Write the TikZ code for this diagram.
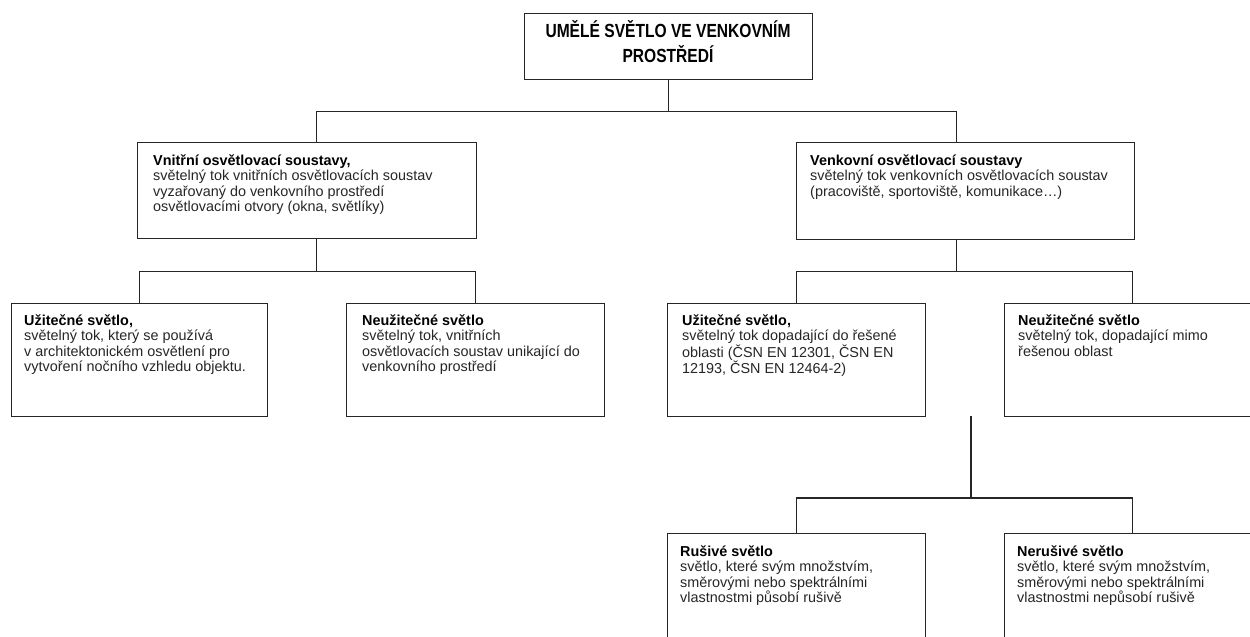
\documentclass[tikz,border=0pt]{standalone}
\usepackage{fontspec}
\setmainfont{Liberation Sans}
\newfontfamily\titlefont[FakeStretch=0.82]{Liberation Sans}
\begin{document}
\begin{tikzpicture}[x=1pt,y=-1pt,
  box/.style={draw=black!85, line width=1.3pt, inner sep=0pt, anchor=north west},
  conn/.style={draw=black!85, line width=1.3pt},
  txt/.style={inner sep=0pt, anchor=base west, text=black!85, font=\fontsize{14.4}{15.5}\selectfont}]
\useasboundingbox (0,0) rectangle (1250,637);
\fill[white] (0,0) rectangle (1250,637);
\clip (0,0) rectangle (1250,637);
% boxes
\node[box, minimum width=288pt, minimum height=66pt] (T) at (524,13) {};
\node[box, minimum width=339pt, minimum height=96pt] (L1) at (137,142) {};
\node[box, minimum width=338pt, minimum height=97pt] (R1) at (796,142) {};
\node[box, minimum width=256pt, minimum height=113pt] (A) at (11,303) {};
\node[box, minimum width=258pt, minimum height=113pt] (B) at (346,303) {};
\node[box, minimum width=258pt, minimum height=113pt] (C) at (667,303) {};
\node[box, minimum width=256pt, minimum height=113pt] (D) at (1004,303) {};
\node[box, minimum width=258pt, minimum height=150pt] (E) at (667,533) {};
\node[box, minimum width=256pt, minimum height=150pt] (F) at (1004,533) {};
% texts
\node[inner sep=0pt, anchor=base, text=black, font=\titlefont\bfseries\fontsize{19}{25}\selectfont] (tT) at (668,37) {\parbox[t]{286pt}{\centering UMĚLÉ SVĚTLO VE VENKOVNÍM\\PROSTŘEDÍ}};
\node[txt] (tL1) at ([shift={(16,23)}]L1.north west) {\parbox[t]{320pt}{\textbf{\color{black}Vnitřní osvětlovací soustavy,}\\světelný tok vnitřních osvětlovacích soustav\\vyzařovaný do venkovního prostředí\\osvětlovacími otvory (okna, světlíky)}};
\node[txt] (tR1) at ([shift={(14,23)}]R1.north west) {\parbox[t]{320pt}{\textbf{\color{black}Venkovní osvětlovací soustavy}\\světelný tok venkovních osvětlovacích soustav\\(pracoviště, sportoviště, komunikace…)}};
\node[txt] (tA) at ([shift={(13,22)}]A.north west) {\parbox[t]{240pt}{\textbf{\color{black}Užitečné světlo,}\\světelný tok, který se používá\\v architektonickém osvětlení pro\\vytvoření nočního vzhledu objektu.}};
\node[txt] (tB) at ([shift={(16,22)}]B.north west) {\parbox[t]{240pt}{\textbf{\color{black}Neužitečné světlo}\\světelný tok, vnitřních\\osvětlovacích soustav unikající do\\venkovního prostředí}};
\node[txt] (tC) at ([shift={(15,22)}]C.north west) {\parbox[t]{240pt}{\textbf{\color{black}Užitečné světlo,}\\světelný tok dopadající do řešené\\oblasti (ČSN EN 12301, ČSN EN\\12193, ČSN EN 12464-2)}};
\node[txt] (tD) at ([shift={(14,22)}]D.north west) {\parbox[t]{240pt}{\textbf{\color{black}Neužitečné světlo}\\světelný tok, dopadající mimo\\řešenou oblast}};
\node[txt] (tE) at ([shift={(13,23)}]E.north west) {\parbox[t]{235pt}{\textbf{\color{black}Rušivé světlo}\\světlo, které svým množstvím,\\směrovými nebo spektrálními\\vlastnostmi působí rušivě}};
\node[txt] (tF) at ([shift={(13,23)}]F.north west) {\parbox[t]{240pt}{\textbf{\color{black}Nerušivé světlo}\\světlo, které svým množstvím,\\směrovými nebo spektrálními\\vlastnostmi nepůsobí rušivě}};
% connectors
\draw[conn] (T.south) -- ++(0,31) coordinate (j0);
\draw[conn] (j0) -| ([xshift=9.5pt]L1.north);
\draw[conn] (j0) -| ([xshift=-9pt]R1.north);
\draw[conn] ([xshift=9.5pt]L1.south) -- ++(0,32) coordinate (j1);
\draw[conn] (j1) -| (A.north);
\draw[conn] (j1) -| (B.north);
\draw[conn] ([xshift=-9pt]R1.south) -- ++(0,31) coordinate (j2);
\draw[conn] (j2) -| (C.north);
\draw[conn] (j2) -| (D.north);
\coordinate (jv) at (971,416);
\draw[conn] (jv) -- ++(0,82) coordinate (j3);
\draw[conn] (j3) -| (E.north);
\draw[conn] (j3) -| (F.north);
\end{tikzpicture}
\end{document}
